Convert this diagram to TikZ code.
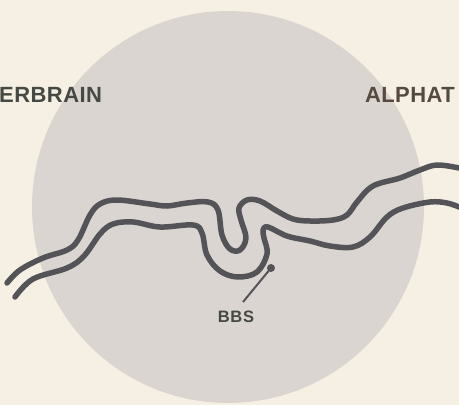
\documentclass[tikz,border=0pt]{standalone}
\usepackage{fontspec}
\setmainfont{Liberation Sans}
\definecolor{paper}{RGB}{246,240,228}
\definecolor{disc}{RGB}{218,213,208}
\definecolor{wire}{RGB}{84,84,88}
\definecolor{inkgrey}{RGB}{70,72,68}
\definecolor{inkbrown}{RGB}{86,74,64}
\tikzset{
  track/.style={draw=wire,line width=5.5pt,line cap=round,line join=round},
  brand/.style={font=\fontsize{22}{22}\selectfont\bfseries\addfontfeature{LetterSpace=2}},
}
\begin{document}
\begin{tikzpicture}[x=1pt,y=-1pt]
\useasboundingbox (0,0) rectangle (459,405);
\fill[paper] (0,0) rectangle (459,405);
\fill[disc] (228,207) circle (196);

\node[brand,text=inkgrey,anchor=base west,inner sep=0pt] (left) at (-1,102) {ERBRAIN};
\node[brand,text=inkbrown,anchor=base east,inner sep=0pt] (right) at (455,102) {ALPHAT};

% upper track
\draw[track] plot[smooth,tension=0.6] coordinates {
  (7,283) (20,270) (43,258) (67,250) (78,240) (90,215) (100,204) (117,200)
  (150,204) (167,206) (187,203) (208,202) (218,210) (222,235) (230,249)
  (240,250) (246,238) (241,220) (239,208) (247,200) (260,201) (277,211)
  (293,219) (310,221) (333,220) (347,215) (357,202) (373,186) (400,178)
  (420,170) (437,165) (459,168)};

% lower track
\draw[track] plot[smooth,tension=0.6] coordinates {
  (15,297) (33,279) (67,268) (84,256) (100,234) (113,224) (133,222)
  (160,227) (193,225) (202,233) (207,255) (220,271) (238,277) (257,272)
  (267,254) (264,238) (263,230) (268,227) (287,236) (310,241) (330,246)
  (353,247) (370,237) (387,217) (403,208) (430,202) (447,203) (459,207)};

% label
\coordinate (dot) at (271,268);
\coordinate (tip) at (243,302);
\fill[wire] (dot) circle (4);
\node[font=\fontsize{16.5}{16.5}\selectfont\bfseries\addfontfeature{LetterSpace=4},text=inkgrey] (bbs) at (236,317) {BBS};
\draw[wire,line width=2pt] (dot) -- (tip);
\end{tikzpicture}
\end{document}
